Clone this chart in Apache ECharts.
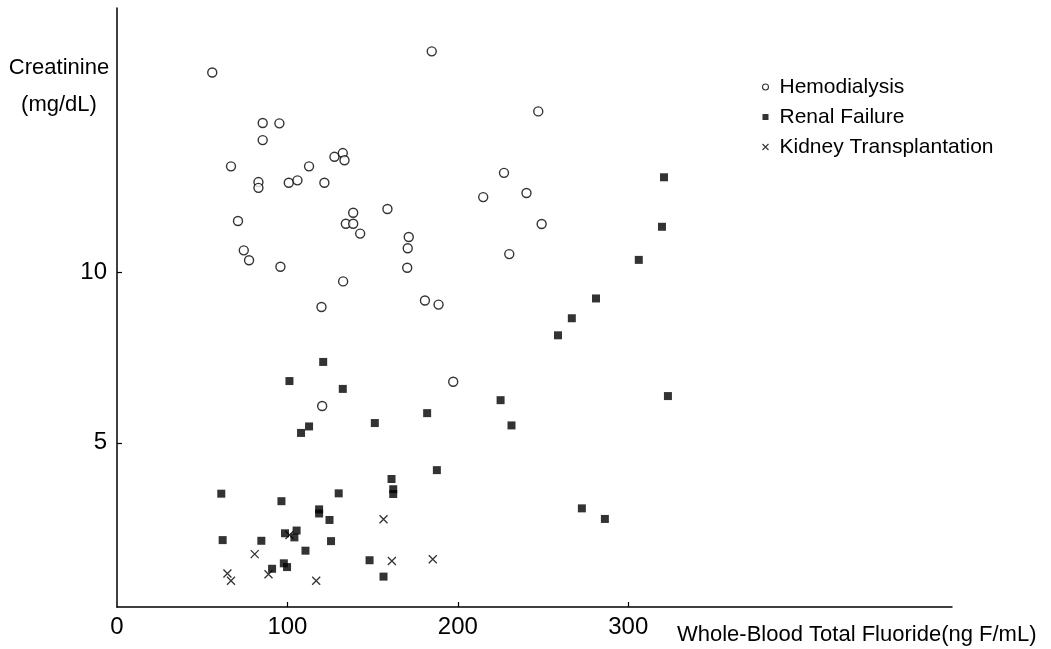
<!DOCTYPE html>
<html>
<head>
<meta charset="utf-8">
<script src="https://cdn.jsdelivr.net/npm/echarts@6/dist/echarts.min.js"></script>
<style>
html,body{margin:0;padding:0;background:#fff;}
#chart{width:1051px;height:649px;}
</style>
</head>
<body>
<div id="chart"></div>
<script>
// Hemodialysis: [fluoride ng F/mL, creatinine mg/dL]
var hemodialysis = [
  [55.9,15.85],[184.7,16.47],[85.5,14.37],[95.3,14.36],[85.5,13.87],[247.2,14.71],
  [66.9,13.10],[127.6,13.38],[132.5,13.49],[133.5,13.28],[112.7,13.10],[227.1,12.91],
  [83.0,12.64],[83.0,12.47],[100.8,12.62],[105.9,12.69],[121.7,12.62],[240.3,12.32],
  [214.9,12.20],[158.7,11.85],[138.6,11.74],[71.0,11.50],[134.3,11.42],[138.6,11.42],
  [249.2,11.41],[142.7,11.13],[171.2,11.03],[170.6,10.70],[74.4,10.64],[77.5,10.35],
  [230.2,10.53],[95.9,10.16],[170.3,10.13],[132.7,9.73],[180.7,9.17],[188.7,9.05],
  [120.0,8.98],[197.3,6.79],[120.4,6.08]
];
var renalFailure = [
  [321.0,12.78],[319.8,11.33],[306.2,10.36],[281.1,9.23],[266.9,8.65],[258.8,8.15],
  [121.0,7.37],[101.2,6.81],[132.5,6.58],[323.3,6.37],[225.1,6.25],[182.0,5.87],
  [151.3,5.58],[231.5,5.51],[112.7,5.48],[108.0,5.29],[187.7,4.20],[161.1,3.94],
  [162.1,3.64],[162.1,3.50],[61.2,3.51],[130.1,3.52],[96.5,3.29],[272.8,3.08],
  [118.6,3.05],[118.6,2.93],[286.3,2.77],[124.7,2.74],[105.4,2.43],[98.6,2.35],
  [104.1,2.23],[62.0,2.15],[84.7,2.13],[125.6,2.12],[110.6,1.84],[148.2,1.56],
  [97.9,1.47],[99.8,1.36],[91.0,1.31],[156.4,1.08]
];
var kidneyTransplantation = [
  [80.8,1.74],[64.8,1.17],[66.9,0.96],[88.9,1.15],[116.9,0.96],[101.2,2.30],
  [156.4,2.76],[161.3,1.54],[185.3,1.59]
];
var xLabelValues = [0,100,200,300];
var xTickValues = [100,200,300];
var yLabelValues = [5,10];
var yTickValues = [5,10];
var seriesNames = ['Hemodialysis','Renal Failure','Kidney Transplantation'];

var FONT = '"Liberation Sans", Arial, sans-serif';
var crossPath = 'path://M0,0L10,10M10,0L0,10';
var squarePath = 'path://M0,0L10,0L10,10L0,10Z';

var chart = echarts.init(document.getElementById('chart'), null, {renderer:'canvas'});
chart.setOption({
  backgroundColor:'#ffffff',
  animation:false,
  grid:{left:117, right:99, top:8, bottom:42, containLabel:false},
  xAxis:{
    type:'value', min:0, max:490,
    axisLine:{show:true, lineStyle:{color:'#000', width:1.5}},
    axisTick:{show:true, inside:true, length:5, customValues:xTickValues, lineStyle:{color:'#000', width:1.2}},
    axisLabel:{show:true, customValues:xLabelValues, margin:8, color:'#000', fontSize:24, fontFamily:FONT},
    splitLine:{show:false}
  },
  yAxis:{
    type:'value', min:0.19, max:17.74,
    axisLine:{show:true, lineStyle:{color:'#000', width:1.5}},
    axisTick:{show:true, inside:true, length:5, customValues:yTickValues, lineStyle:{color:'#000', width:1.2}},
    axisLabel:{show:true, customValues:yLabelValues, margin:10, color:'#000', fontSize:24, fontFamily:FONT},
    splitLine:{show:false}
  },
  legend:{
    show:true, orient:'vertical', left:755, top:71, itemGap:8,
    itemWidth:18, itemHeight:6, symbolKeepAspect:true,
    textStyle:{color:'#000', fontSize:21, fontFamily:FONT, lineHeight:22},
    data:[
      {name:seriesNames[0], icon:'circle', itemStyle:{color:'#fff', borderColor:'#000', borderWidth:1.1}},
      {name:seriesNames[1], icon:squarePath, itemStyle:{color:'#000', borderWidth:0}},
      {name:seriesNames[2], icon:crossPath, itemStyle:{color:'none', borderColor:'#000', borderWidth:1.1}}
    ]
  },
  graphic:[
    {type:'text', x:59, y:86, style:{text:'Creatinine\n(mg/dL)', align:'center', verticalAlign:'middle', lineHeight:37, fill:'#000', font:'22px ' + FONT}},
    {type:'text', x:677, y:635, style:{text:'Whole-Blood Total Fluoride(ng F/mL)', align:'left', verticalAlign:'middle', fill:'#000', font:'22px ' + FONT}}
  ],
  series:[
    {name:seriesNames[0], type:'scatter', data:hemodialysis, symbol:'circle', symbolSize:9,
     itemStyle:{color:'#fff', borderColor:'#000', borderWidth:1.4}, z:3},
    {name:seriesNames[1], type:'scatter', data:renalFailure, symbol:'rect', symbolSize:8,
     itemStyle:{color:'#000'}, z:2},
    {name:seriesNames[2], type:'scatter', data:kidneyTransplantation, symbol:crossPath, symbolSize:8,
     itemStyle:{color:'none', borderColor:'#000', borderWidth:1.3}, z:4}
  ]
});
</script>
</body>
</html>
